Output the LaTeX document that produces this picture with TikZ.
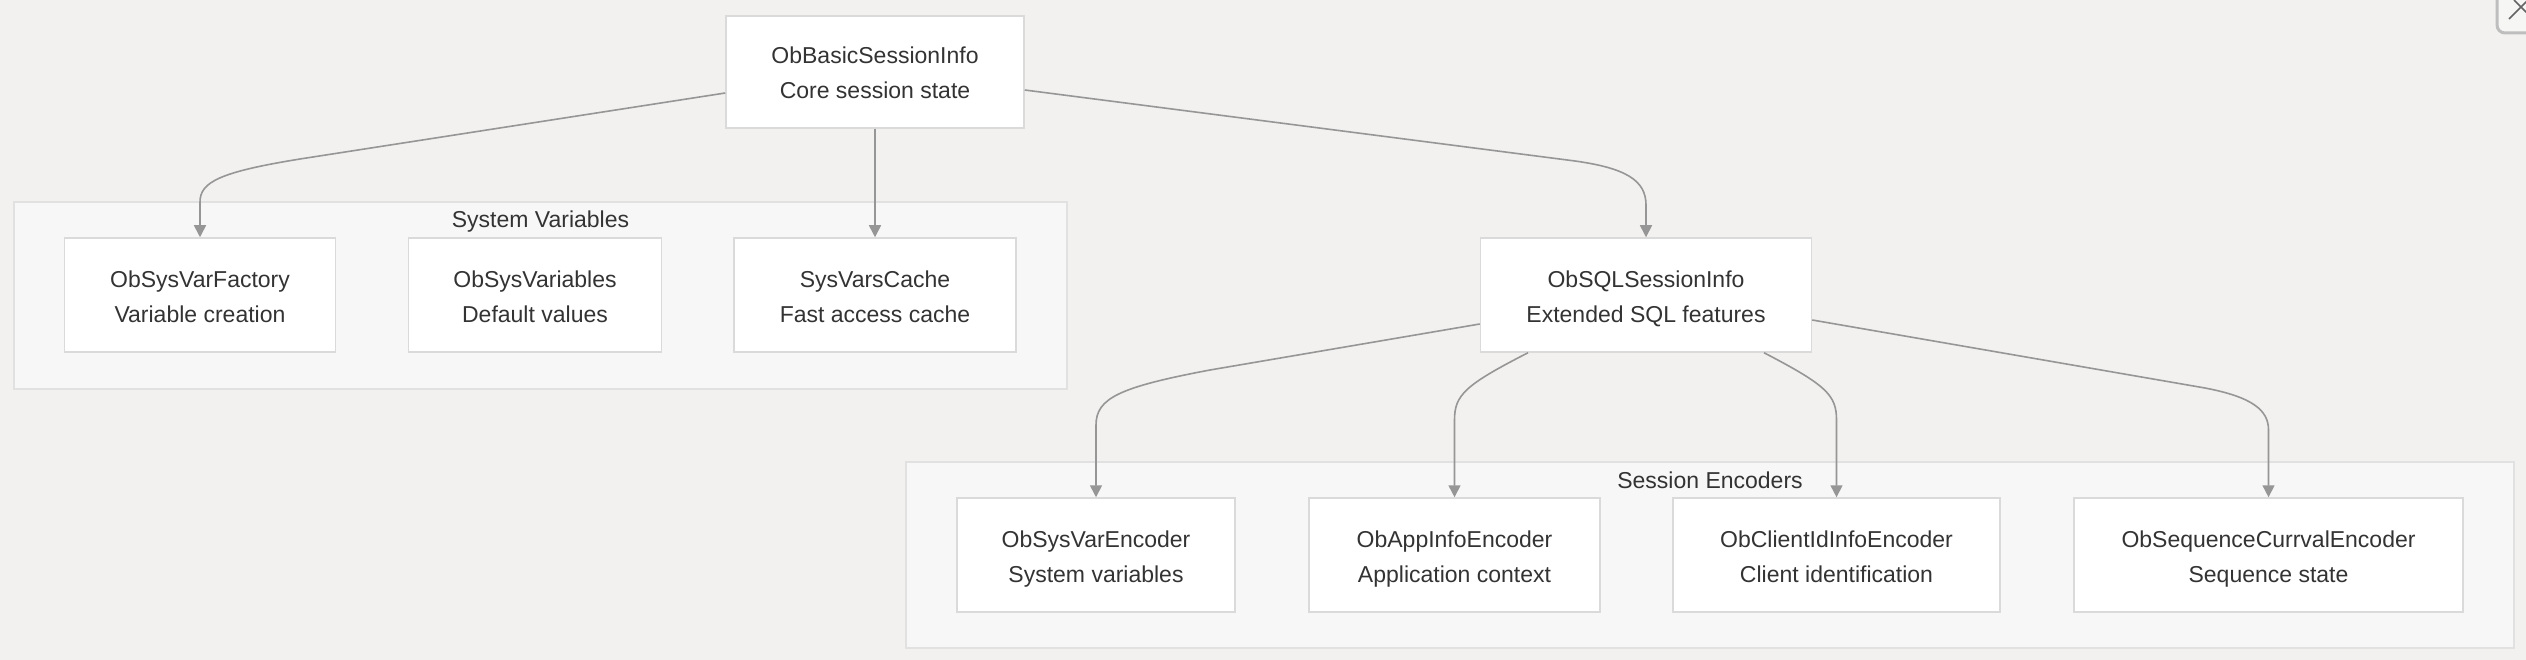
\documentclass[tikz,border=0pt]{standalone}
\usepackage{fontspec}
\setmainfont{Liberation Sans}
\usetikzlibrary{arrows.meta}
\definecolor{bgc}{RGB}{242,241,239}
\definecolor{clfill}{RGB}{247,247,247}
\definecolor{clline}{RGB}{225,225,225}
\definecolor{ndline}{RGB}{218,218,218}
\definecolor{edgec}{RGB}{150,150,150}
\definecolor{txtc}{RGB}{51,51,51}
\newcommand{\lnstrut}{\rule[-8pt]{0pt}{35pt}}
\newcommand{\twolines}[2]{\lnstrut#1\\\lnstrut#2}
\tikzset{
  box/.style={draw=ndline, line width=1.5pt, fill=white, align=center, text=txtc,
    font=\fontsize{23pt}{35pt}\selectfont, inner sep=0pt, minimum height=114pt},
  cluster/.style={draw=clline, line width=1.5pt, fill=clfill},
  cltitle/.style={text=txtc, font=\fontsize{23pt}{28pt}\selectfont, inner sep=0pt, anchor=base},
  edge/.style={draw=edgec, line width=1.6pt, -{Triangle[length=12pt,width=12pt]}},
}
\begin{document}
\begin{tikzpicture}[x=1pt,y=-1pt]
\useasboundingbox (0,0) rectangle (2526,660);
\clip (0,0) rectangle (2526,660);
\fill[bgc] (0,0) rectangle (2526,660);
% clusters
\draw[cluster] (14,202) rectangle (1067,389);
\node[cltitle] (t1) at (540.5,228) {System Variables};
\draw[cluster] (906,462) rectangle (2514,648);
\node[cltitle] (t2) at (1710,488) {Session Encoders};
% nodes
\node[box, minimum width=298pt, minimum height=112pt] (basic) at (875,72) {\twolines{ObBasicSessionInfo}{Core session state}};
\node[box, minimum width=271pt] (fac) at (200,295) {\twolines{ObSysVarFactory}{Variable creation}};
\node[box, minimum width=253pt] (vars) at (535,295) {\twolines{ObSysVariables}{Default values}};
\node[box, minimum width=282pt] (cache) at (875,295) {\twolines{SysVarsCache}{Fast access cache}};
\node[box, minimum width=331pt] (sql) at (1646,295) {\twolines{ObSQLSessionInfo}{Extended SQL features}};
\node[box, minimum width=278pt] (enc1) at (1096,555) {\twolines{ObSysVarEncoder}{System variables}};
\node[box, minimum width=291pt] (enc2) at (1454.5,555) {\twolines{ObAppInfoEncoder}{Application context}};
\node[box, minimum width=327pt] (enc3) at (1836.5,555) {\twolines{ObClientIdInfoEncoder}{Client identification}};
\node[box, minimum width=389pt] (enc4) at (2268.5,555) {\twolines{ObSequenceCurrvalEncoder}{Sequence state}};
% edges
\draw[edge] ([yshift=-21pt]basic.west) -- (300,159) .. controls (220,172) and (200,182) .. (200,202) -- (fac.north);
\draw[edge] (basic.south) -- (cache.north);
\draw[edge] ([yshift=-18pt]basic.east) -- (1575,161) .. controls (1625,168) and (1646,180) .. (1646,205) -- (sql.north);
\draw[edge] ([yshift=-29pt]sql.west) -- (1210,370) .. controls (1120,387) and (1096,398) .. (1096,425) -- (enc1.north);
\draw[edge] ([xshift=-118pt]sql.south) .. controls (1465,385) and (1454.5,395) .. (1454.5,420) -- (enc2.north);
\draw[edge] ([xshift=118pt]sql.south) .. controls (1826,385) and (1836.5,395) .. (1836.5,420) -- (enc3.north);
\draw[edge] ([yshift=-25pt]sql.east) -- (2205,388) .. controls (2252,397) and (2268.5,410) .. (2268.5,430) -- (enc4.north);
% close button (partially visible)
\draw[draw={rgb,255:red,190;green,190;blue,190}, line width=3pt, fill={rgb,255:red,246;green,246;blue,245}, rounded corners=8pt] (2497,-20) rectangle (2560,33);
\draw[draw={rgb,255:red,100;green,100;blue,100}, line width=1.6pt] (2509,19) -- (2528,0) (2514,0) -- (2528,14);
\end{tikzpicture}
\end{document}
